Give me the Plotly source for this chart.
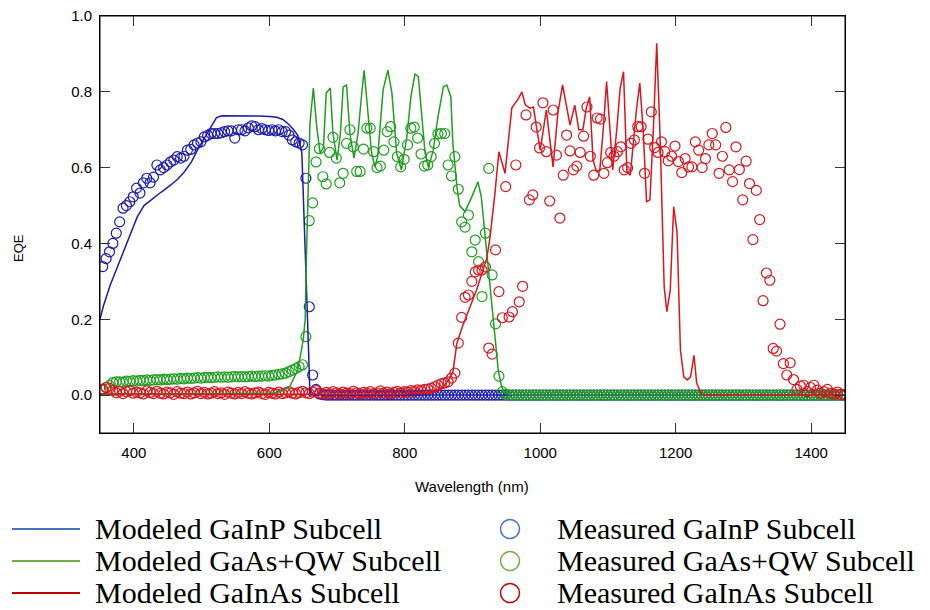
import numpy as np
import plotly.graph_objects as go

# ---------------- data ----------------
# measured EQE on a 5 nm wavelength grid
meas_wl = np.arange(354, 1450, 5)

meas_gainp = [
    0.339, 0.36, 0.378, 0.40, 0.427, 0.457, 0.493, 0.50, 0.51, 0.523,
    0.546, 0.533, 0.56, 0.572, 0.56, 0.575, 0.607, 0.594, 0.60, 0.607,
    0.615, 0.62, 0.629, 0.625, 0.63, 0.646, 0.648, 0.66, 0.665, 0.668,
    0.681, 0.685, 0.69, 0.69, 0.69, 0.692, 0.695, 0.697, 0.697, 0.678,
    0.70, 0.70, 0.697, 0.705, 0.71, 0.708, 0.70, 0.703, 0.70, 0.698,
    0.70, 0.697, 0.70, 0.695, 0.695, 0.686, 0.673, 0.668, 0.665, 0.66,
    0.572, 0.233, 0.053, 0.015, 0.003, 0.001, 0.0, 0.0, 0.0, 0.0,
    0.0, 0.0, 0.0, 0.0, 0.0, 0.0, 0.0, 0.0, 0.0, 0.0,
    0.0, 0.0, 0.0, 0.0, 0.0, 0.0, 0.0, 0.0, 0.0, 0.0,
    0.0, 0.0, 0.0, 0.0, 0.0, 0.0, 0.0, 0.0, 0.0, 0.0,
    0.0, 0.0, 0.0, 0.0, 0.0, 0.0, 0.0, 0.0, 0.0, 0.0,
    0.0, 0.0, 0.0, 0.0, 0.0, 0.0, 0.0, 0.0, 0.0, 0.0,
    0.0, 0.0, 0.0, 0.0, 0.0, 0.0, 0.0, 0.0, 0.0, 0.0,
    0.0, 0.0, 0.0, 0.0, 0.0, 0.0, 0.0, 0.0, 0.0, 0.0,
    0.0, 0.0, 0.0, 0.0, 0.0, 0.0, 0.0, 0.0, 0.0, 0.0,
    0.0, 0.0, 0.0, 0.0, 0.0, 0.0, 0.0, 0.0, 0.0, 0.0,
    0.0, 0.0, 0.0, 0.0, 0.0, 0.0, 0.0, 0.0, 0.0, 0.0,
    0.0, 0.0, 0.0, 0.0, 0.0, 0.0, 0.0, 0.0, 0.0, 0.0,
    0.0, 0.0, 0.0, 0.0, 0.0, 0.0, 0.0, 0.0, 0.0, 0.0,
    0.0, 0.0, 0.0, 0.0, 0.0, 0.0, 0.0, 0.0, 0.0, 0.0,
    0.0, 0.0, 0.0, 0.0, 0.0, 0.0, 0.0, 0.0, 0.0, 0.0,
    0.0, 0.0, 0.0, 0.0, 0.0, 0.0, 0.0, 0.0, 0.0, 0.0,
]

meas_gaas = [
    0.013, 0.02, 0.025, 0.033, 0.035, 0.035, 0.034, 0.037, 0.036, 0.038,
    0.037, 0.039, 0.038, 0.04, 0.039, 0.04, 0.041, 0.04, 0.042, 0.041,
    0.042, 0.043, 0.042, 0.044, 0.043, 0.045, 0.044, 0.045, 0.046, 0.045,
    0.046, 0.047, 0.046, 0.047, 0.048, 0.047, 0.048, 0.047, 0.048, 0.049,
    0.048, 0.049, 0.048, 0.049, 0.05, 0.049, 0.05, 0.05, 0.051, 0.05,
    0.052, 0.053, 0.055, 0.056, 0.058, 0.062, 0.066, 0.07, 0.075, 0.08,
    0.154, 0.46, 0.507, 0.615, 0.65, 0.576, 0.557, 0.64, 0.68, 0.625,
    0.56, 0.585, 0.664, 0.70, 0.655, 0.59, 0.59, 0.649, 0.704, 0.704,
    0.642, 0.60, 0.604, 0.646, 0.695, 0.708, 0.668, 0.629, 0.602, 0.622,
    0.66, 0.704, 0.707, 0.678, 0.636, 0.604, 0.607, 0.629, 0.664, 0.689,
    0.69, 0.69, 0.607, 0.578, 0.629, 0.543, 0.457, 0.443, 0.475, 0.378,
    0.409, 0.352, 0.26, 0.427, 0.598, 0.317, 0.188, 0.05, 0.009, 0.002,
    0.0, 0.0, 0.0, 0.0, 0.0, 0.0, 0.0, 0.0, 0.0, 0.0,
    0.0, 0.0, 0.0, 0.0, 0.0, 0.0, 0.0, 0.0, 0.0, 0.0,
    0.0, 0.0, 0.0, 0.0, 0.0, 0.0, 0.0, 0.0, 0.0, 0.0,
    0.0, 0.0, 0.0, 0.0, 0.0, 0.0, 0.0, 0.0, 0.0, 0.0,
    0.0, 0.0, 0.0, 0.0, 0.0, 0.0, 0.0, 0.0, 0.0, 0.0,
    0.0, 0.0, 0.0, 0.0, 0.0, 0.0, 0.0, 0.0, 0.0, 0.0,
    0.0, 0.0, 0.0, 0.0, 0.0, 0.0, 0.0, 0.0, 0.0, 0.0,
    0.0, 0.0, 0.0, 0.0, 0.0, 0.0, 0.0, 0.0, 0.0, 0.0,
    0.0, 0.0, 0.0, 0.0, 0.0, 0.0, 0.0, 0.0, 0.0, 0.0,
    0.0, 0.0, 0.0, 0.0, 0.0, 0.0, 0.0, 0.0, 0.0, 0.0,
]

meas_gainas = [
    0.015, 0.02, 0.018, 0.012, 0.006, 0.01, 0.004, 0.009, 0.012, 0.005,
    0.008, 0.006, 0.003, 0.011, 0.007, 0.004, 0.01, 0.005, 0.003, 0.008,
    0.006, 0.002, 0.009, 0.005, 0.004, 0.008, 0.003, 0.006, 0.01, 0.004,
    0.007, 0.003, 0.005, 0.009, 0.004, 0.006, 0.002, 0.008, 0.005, 0.003,
    0.007, 0.004, 0.009, 0.005, 0.003, 0.006, 0.008, 0.004, 0.002, 0.007,
    0.005, 0.003, 0.008, 0.004, 0.006, 0.009, 0.005, 0.003, 0.007, 0.01,
    0.006, 0.004, 0.008, 0.012, 0.005, 0.003, 0.007, 0.004, 0.009, 0.006,
    0.003, 0.008, 0.005, 0.004, 0.01, 0.006, 0.003, 0.007, 0.005, 0.009,
    0.004, 0.006, 0.011, 0.005, 0.008, 0.004, 0.007, 0.01, 0.006, 0.009,
    0.008, 0.012, 0.01, 0.014, 0.012, 0.015, 0.016, 0.018, 0.022, 0.026,
    0.03, 0.032, 0.035, 0.045, 0.058, 0.137, 0.205, 0.258, 0.264, 0.30,
    0.325, 0.33, 0.33, 0.338, 0.124, 0.108, 0.383, 0.273, 0.204, 0.55,
    0.206, 0.22, 0.607, 0.246, 0.287, 0.739, 0.515, 0.528, 0.707, 0.652,
    0.771, 0.642, 0.512, 0.752, 0.633, 0.467, 0.58, 0.686, 0.644, 0.594,
    0.604, 0.64, 0.683, 0.76, 0.63, 0.58, 0.731, 0.728, 0.585, 0.613,
    0.64, 0.63, 0.642, 0.655, 0.594, 0.60, 0.664, 0.673, 0.708, 0.708,
    0.585, 0.675, 0.747, 0.653, 0.64, 0.668, 0.642, 0.618, 0.63, 0.657,
    0.616, 0.587, 0.624, 0.602, 0.602, 0.668, 0.646, 0.60, 0.624, 0.66,
    0.69, 0.66, 0.585, 0.63, 0.706, 0.594, 0.563, 0.655, 0.595, 0.515,
    0.617, 0.558, 0.41, 0.54, 0.463, 0.249, 0.322, 0.303, 0.123, 0.116,
    0.187, 0.083, 0.053, 0.085, 0.041, 0.015, 0.024, 0.026, 0.009, 0.02,
    0.026, 0.013, 0.005, 0.009, 0.015, 0.005, 0.003, 0.008, 0.002, 0.001,
]

# modeled EQE curves
mod_gainp_wl = [350, 355, 365, 375, 385, 395, 405, 415, 425, 440, 455, 465, 475,
                485, 495, 505, 515, 522, 530, 545, 565, 585, 600, 611, 620, 628,
                636, 642, 648, 651, 654, 657, 660, 700, 800, 900, 1000, 1100,
                1200, 1300, 1400, 1450]
mod_gainp = [0.2, 0.235, 0.29, 0.335, 0.385, 0.43, 0.47, 0.5, 0.515, 0.535,
             0.555, 0.57, 0.59, 0.615, 0.65, 0.68, 0.71, 0.732, 0.737, 0.737,
             0.737, 0.736, 0.735, 0.733, 0.727, 0.715, 0.70, 0.685, 0.64, 0.5,
             0.33, 0.17, 0.0, 0.0, 0.0, 0.0, 0.0, 0.0, 0.0, 0.0, 0.0, 0.0]

mod_gaas_wl = [350, 400, 500, 600, 611, 620, 630, 642, 650, 653, 655, 658, 660,
               665, 670, 675, 680, 684, 690, 694, 700, 705, 709, 714, 719, 725,
               731, 736, 740, 744, 751, 756, 760, 768, 775, 781, 788, 795, 803,
               809, 815, 820, 825, 830, 835, 842, 849, 857, 862, 868, 871, 877,
               881, 889, 899, 908, 913, 918, 923, 928, 933, 938, 943, 948, 960,
               1000, 1100, 1200, 1300, 1400, 1450]
mod_gaas = [0.003, 0.003, 0.003, 0.005, 0.007, 0.012, 0.022, 0.066, 0.145, 0.2,
            0.38, 0.6, 0.717, 0.81, 0.708, 0.638, 0.655, 0.797, 0.81, 0.69,
            0.62, 0.69, 0.813, 0.818, 0.69, 0.625, 0.69, 0.787, 0.857, 0.777,
            0.638, 0.602, 0.629, 0.805, 0.857, 0.797, 0.638, 0.594, 0.68, 0.787,
            0.847, 0.84, 0.734, 0.638, 0.60, 0.646, 0.734, 0.813, 0.818, 0.787,
            0.664, 0.55, 0.50, 0.484, 0.523, 0.563, 0.523, 0.435, 0.348, 0.243,
            0.154, 0.066, 0.022, 0.005, 0.0, 0.0, 0.0, 0.0, 0.0, 0.0, 0.0]

mod_gainas_wl = [350, 500, 700, 800, 840, 855, 865, 871, 877, 885, 891, 899, 906,
                 912, 916, 921, 926, 930, 933, 939, 948, 958, 967, 973, 978, 985,
                 990, 995, 1000, 1009, 1014, 1019, 1026, 1033, 1039, 1044, 1051,
                 1057, 1063, 1068, 1073, 1078, 1083, 1088, 1093, 1098, 1103, 1107,
                 1113, 1118, 1123, 1128, 1133, 1142, 1147, 1152, 1157, 1162, 1167,
                 1172, 1177, 1183, 1187, 1192, 1197, 1202, 1207, 1212, 1217, 1222,
                 1227, 1231, 1238, 1250, 1300, 1400, 1450]
mod_gainas = [0.003, 0.002, 0.002, 0.003, 0.008, 0.02, 0.04, 0.06, 0.137, 0.18,
              0.206, 0.245, 0.277, 0.31, 0.335, 0.36, 0.418, 0.48, 0.53, 0.642,
              0.585, 0.757, 0.78, 0.80, 0.765, 0.757, 0.76, 0.70, 0.646, 0.752,
              0.673, 0.602, 0.744, 0.818, 0.76, 0.712, 0.765, 0.70, 0.70, 0.757,
              0.787, 0.62, 0.59, 0.594, 0.70, 0.827, 0.70, 0.594, 0.70, 0.81,
              0.853, 0.59, 0.58, 0.752, 0.823, 0.70, 0.51, 0.515, 0.70, 0.928,
              0.68, 0.286, 0.22, 0.277, 0.497, 0.43, 0.119, 0.048, 0.04, 0.048,
              0.105, 0.032, 0.002, 0.0, 0.0, 0.0, 0.0]

x_ticks = [400, 600, 800, 1000, 1200, 1400]
y_ticks = [0.0, 0.2, 0.4, 0.6, 0.8, 1.0]

legend_left = ["Modeled GaInP Subcell", "Modeled GaAs+QW Subcell", "Modeled GaInAs Subcell"]
legend_right = ["Measured GaInP Subcell", "Measured GaAs+QW Subcell", "Measured GaInAs Subcell"]

# ---------------- style ----------------
C_BLUE, C_GREEN, C_RED = "#1c1ca8", "#1f9e1f", "#d8161e"
LEG_COLORS = ["#4472c4", "#70ad47", "#c00000"]

W, H = 930, 610
# plot area in screen pixels: x 100..845, y 16..433 (page body margin removed)
ML, MT = 100, 16
MR = W - 845
MB = H - 433
PW, PH = W - ML - MR, H - MT - MB


def px2x(px):
    """screen pixel x -> paper coordinate"""
    return (px - ML) / PW


def py2y(py):
    """screen pixel y -> paper coordinate"""
    return (H - MB - py) / PH


fig = go.Figure()

for y, c in [(meas_gainp, C_BLUE), (meas_gaas, C_GREEN), (meas_gainas, C_RED)]:
    fig.add_trace(go.Scatter(
        x=meas_wl, y=y, mode="markers",
        marker=dict(symbol="circle-open", size=10, color=c, line=dict(width=1.2, color=c)),
        showlegend=False, hoverinfo="skip"))

for x, y, c in [(mod_gainp_wl, mod_gainp, C_BLUE), (mod_gaas_wl, mod_gaas, C_GREEN),
                (mod_gainas_wl, mod_gainas, C_RED)]:
    fig.add_trace(go.Scatter(x=x, y=y, mode="lines", line=dict(color=c, width=1.5),
                             showlegend=False, hoverinfo="skip"))

axis_common = dict(showline=True, linecolor="black", linewidth=1, mirror="ticks",
                   ticks="inside", ticklen=10, tickcolor="#333333", tickwidth=1,
                   showgrid=False, zeroline=False, ticklabeloverflow="allow",
                   automargin=False,
                   tickfont=dict(family="Liberation Sans, Arial", size=15, color="black"))

fig.update_layout(
    width=W, height=H, margin=dict(l=ML, r=MR, t=MT, b=MB, autoexpand=False),
    paper_bgcolor="white", plot_bgcolor="white", showlegend=False,
    xaxis=dict(range=[350, 1450], tickvals=x_ticks, ticklabelstandoff=6, **axis_common),
    yaxis=dict(range=[-0.1, 1.0], tickvals=y_ticks, tickformat=".1f",
               ticklabelstandoff=4, **axis_common),
)

annotations = [
    dict(text="Wavelength (nm)", x=px2x(472), y=py2y(486), xref="paper", yref="paper",
         showarrow=False, xanchor="center", yanchor="middle",
         font=dict(family="Liberation Sans, Arial", size=15, color="black")),
    dict(text="EQE", x=px2x(18), y=py2y(248), xref="paper", yref="paper",
         showarrow=False, xanchor="center", yanchor="middle", textangle=-90,
         font=dict(family="Liberation Sans, Arial", size=13, color="black")),
]

# frame of the plot area
shapes = [dict(type="rect", xref="paper", yref="paper", x0=0, x1=1, y0=0, y1=1,
               line=dict(color="black", width=1), layer="above")]

row_y = [528, 560, 592]
for i in range(3):
    shapes.append(dict(type="line", xref="paper", yref="paper",
                       x0=px2x(12), x1=px2x(80), y0=py2y(row_y[i] + 1), y1=py2y(row_y[i] + 1),
                       line=dict(color=LEG_COLORS[i], width=2)))
    r = 9.5
    shapes.append(dict(type="circle", xref="paper", yref="paper",
                       x0=px2x(510 - r), x1=px2x(510 + r),
                       y0=py2y(row_y[i] + 1 + r), y1=py2y(row_y[i] + 1 - r),
                       line=dict(color=LEG_COLORS[i], width=1.5)))
    annotations.append(dict(text=legend_left[i], x=px2x(93), y=py2y(row_y[i]),
                            xref="paper", yref="paper", showarrow=False,
                            xanchor="left", yanchor="middle",
                            font=dict(family="Liberation Serif, Times New Roman", size=30,
                                      color="black")))
    annotations.append(dict(text=legend_right[i], x=px2x(555), y=py2y(row_y[i]),
                            xref="paper", yref="paper", showarrow=False,
                            xanchor="left", yanchor="middle",
                            font=dict(family="Liberation Serif, Times New Roman", size=30,
                                      color="black")))

fig.update_layout(annotations=annotations, shapes=shapes)

fig.write_html("out.html",
               config={"displayModeBar": False, "staticPlot": True},
               post_script="document.body.style.margin='0';"
                           "document.body.style.overflow='hidden';")
